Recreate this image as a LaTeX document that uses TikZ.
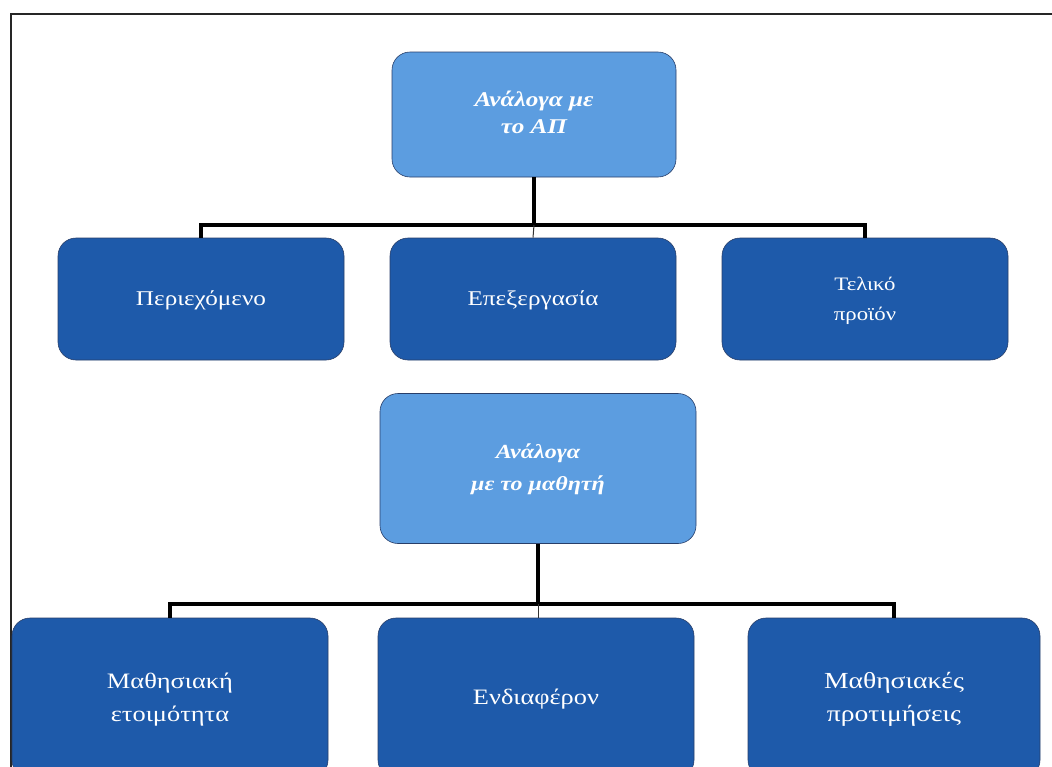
\documentclass[tikz,border=0pt]{standalone}
\usepackage{fontspec}
\setmainfont{Liberation Serif}
\usepackage{graphicx}
\definecolor{lightbox}{RGB}{92,157,224}
\definecolor{darkbox}{RGB}{30,90,170}
\definecolor{boxedge}{RGB}{40,62,105}
\newcommand{\wtext}[3]{\scalebox{1.2}[1]{\fontsize{#1}{#2}\selectfont\begin{tabular}{@{}c@{}}#3\end{tabular}}}
\begin{document}
\begin{tikzpicture}[x=1pt,y=-1pt,
  box/.style={rounded corners=18pt, draw=boxedge, line width=0.6pt, inner sep=0pt, text=white},
  light/.style={box, fill=lightbox, font=\bfseries\itshape},
  dark/.style={box, fill=darkbox},
  conn/.style={line width=3.2pt, black},
  thinconn/.style={line width=1pt, black!80}]
\useasboundingbox (0,0) rectangle (1052,766);
\clip (0,0) rectangle (1052,766);
\fill[white] (0,0) rectangle (1052,766);
% frame
\draw[line width=2.2pt, black!85] (11,770) -- (11,14) -- (1056,14);
% top light box
\node[light, minimum width=284pt, minimum height=125pt] (ap) at (534,114.5)
  {\raisebox{-2pt}{\wtext{21}{27}{Ανάλογα με\\το ΑΠ}}};
% row 2
\node[dark, minimum width=286pt, minimum height=122pt] (n1) at (201,299)
  {\wtext{21}{30}{Περιεχόμενο}};
\node[dark, minimum width=286pt, minimum height=122pt] (n2) at (533,299)
  {\wtext{21}{30}{Επεξεργασία}};
\node[dark, minimum width=286pt, minimum height=122pt] (n3) at (865,299)
  {\wtext{19}{30}{Τελικό\\προϊόν}};
% second light box
\node[light, minimum width=316pt, minimum height=150pt] (st) at (538,468.5)
  {\raisebox{-7pt}{\wtext{20}{32}{Ανάλογα\\με το μαθητή}}};
% row 3
\node[dark, minimum width=316pt, minimum height=160pt] (m1) at (170,698)
  {\wtext{22}{33}{Μαθησιακή\\ετοιμότητα}};
\node[dark, minimum width=316pt, minimum height=160pt] (m2) at (536,698)
  {\wtext{22}{33}{Ενδιαφέρον}};
\node[dark, minimum width=292pt, minimum height=160pt] (m3) at (894,698)
  {\wtext{23}{33}{Μαθησιακές\\προτιμήσεις}};
% connectors, first tree
\coordinate (bus1) at (534,225);
\draw[conn] (ap.south) -- (ap.south |- bus1);
\draw[conn] (n1.north) -- (n1.north |- bus1) -- (n3.north |- bus1) -- (n3.north);
\draw[thinconn] (bus1) -- (n2.north);
% connectors, second tree
\coordinate (bus2) at (538,604);
\draw[conn] (st.south) -- (st.south |- bus2);
\draw[conn] (m1.north) -- (m1.north |- bus2) -- (m3.north |- bus2) -- (m3.north);
\draw[thinconn] (bus2) -- (m2.north -| bus2);
\end{tikzpicture}
\end{document}
